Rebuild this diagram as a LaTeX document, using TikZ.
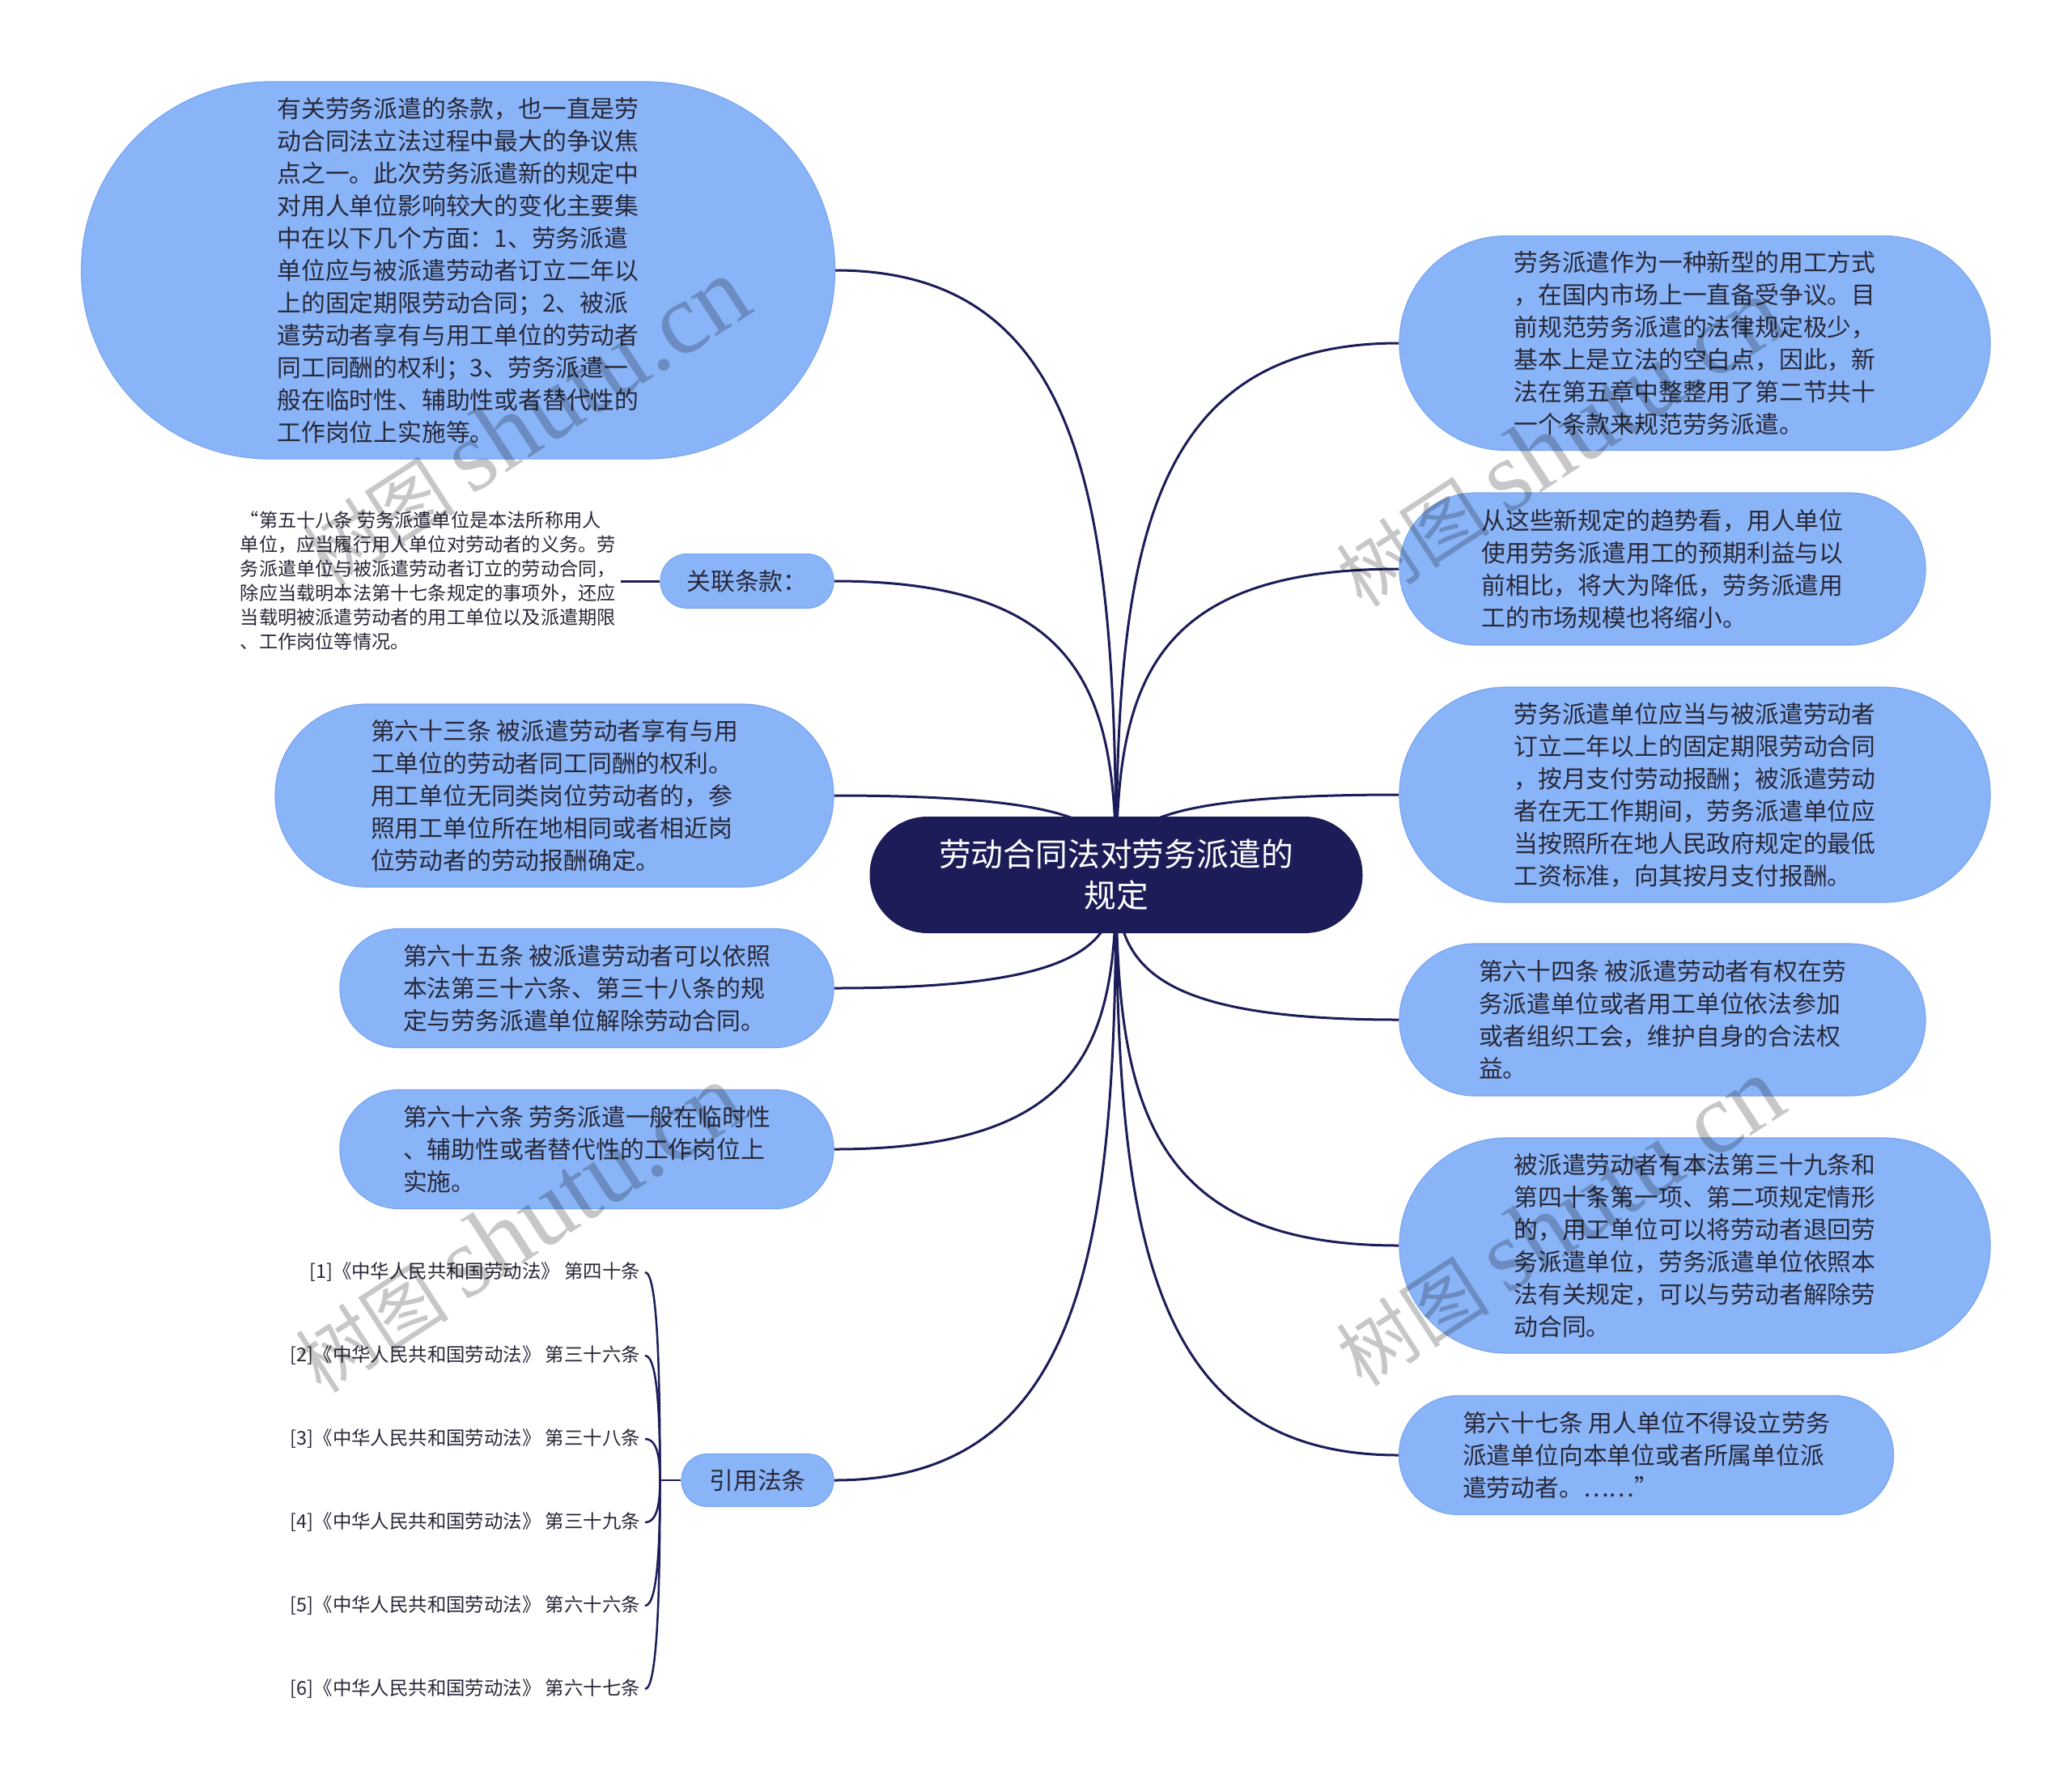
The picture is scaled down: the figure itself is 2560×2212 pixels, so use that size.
\documentclass[tikz,border=0pt]{standalone}
\usepackage{fontspec}
\setmainfont{Noto Sans CJK SC}
\newfontfamily\wmlatin{Liberation Serif}
\usetikzlibrary{calc,backgrounds}
\definecolor{nodefill}{RGB}{138,180,248}
\definecolor{nodeedge}{RGB}{122,166,240}
\definecolor{navy}{RGB}{28,28,88}
\definecolor{txt}{RGB}{40,40,56}
\newcommand\bodyfont{\fontsize{29.8}{40}\selectfont}
\newcommand\smallfont{\fontsize{23.2}{30}\selectfont}
\newcommand\citefont{\fontsize{23.4}{28}\selectfont}
\newcommand\mmlink[2]{\draw[link] (#1) .. controls ($(#1)!0.6!(#1 |- #2)$) and ($(#1 |- #2)!0.1!(#2)$) .. (#2);}
\newcommand\brlink[2]{\draw[citelink] (#1) .. controls ($(#1)!0.45!(#1 |- #2)$) and ($(#1 |- #2)+(-2,0)$) .. (#2);}
\tikzset{
  bub/.style n args={3}{fill=nodefill, draw=nodeedge, line width=1.2pt, text=txt,
    align=left, font=\bodyfont, inner sep=0pt, minimum width=#1, minimum height=#2,
    rounded corners=#3},
  plaintext/.style={text=txt, align=left, inner sep=6pt},
  link/.style={draw=navy, line width=3pt},
  citelink/.style={draw=navy, line width=2.5pt},
  wmark/.style={text=black, opacity=0.22, rotate=33, inner sep=0pt}
}
\begin{document}
\begin{tikzpicture}[x=1pt,y=-1pt]
\useasboundingbox (0,0) rectangle (2560,2212);

% central topic
\node[fill=navy, text=white, align=center, font=\fontsize{39.8}{51}\selectfont,
  minimum width=609pt, minimum height=144pt, rounded corners=71.5pt, inner sep=0pt]
  (C) at (1379,1081) {劳动合同法对劳务派遣的\\规定};

% left side
\node[bub={931pt}{466pt}{232.5pt}] (A) at (566,334) {有关劳务派遣的条款，也一直是劳\\动合同法立法过程中最大的争议焦\\点之一。此次劳务派遣新的规定中\\对用人单位影响较大的变化主要集\\中在以下几个方面：1、劳务派遣\\单位应与被派遣劳动者订立二年以\\上的固定期限劳动合同；2、被派\\遣劳动者享有与用工单位的劳动者\\同工同酬的权利；3、劳务派遣一\\般在临时性、辅助性或者替代性的\\工作岗位上实施等。};

\node[bub={214pt}{67pt}{33pt}, align=center] (L) at (923,718) {关联条款：};
\node[plaintext, font=\smallfont, anchor=east] (LT) at (767,718) {“第五十八条 劳务派遣单位是本法所称用人\\单位，应当履行用人单位对劳动者的义务。劳\\务派遣单位与被派遣劳动者订立的劳动合同，\\除应当载明本法第十七条规定的事项外，还应\\当载明被派遣劳动者的用工单位以及派遣期限\\、工作岗位等情况。};

\node[bub={690pt}{226pt}{112.5pt}] (N63) at (685,983) {第六十三条 被派遣劳动者享有与用\\工单位的劳动者同工同酬的权利。\\用工单位无同类岗位劳动者的，参\\照用工单位所在地相同或者相近岗\\位劳动者的劳动报酬确定。};

\node[bub={610pt}{147pt}{73pt}] (N65) at (725,1221) {第六十五条 被派遣劳动者可以依照\\本法第三十六条、第三十八条的规\\定与劳务派遣单位解除劳动合同。};

\node[bub={610pt}{147pt}{73pt}] (N66) at (725,1420) {第六十六条 劳务派遣一般在临时性\\、辅助性或者替代性的工作岗位上\\实施。};

\node[bub={188pt}{65pt}{32pt}, align=center] (Q) at (936,1829) {引用法条};
\coordinate (J) at ($(Q.west)+(-26,0)$);

\node[plaintext, font=\citefont, anchor=east] (Q1) at (797,1572) {[1]《中华人民共和国劳动法》 第四十条};
\node[plaintext, font=\citefont, anchor=east] (Q2) at (797,1675) {[2]《中华人民共和国劳动法》 第三十六条};
\node[plaintext, font=\citefont, anchor=east] (Q3) at (797,1778) {[3]《中华人民共和国劳动法》 第三十八条};
\node[plaintext, font=\citefont, anchor=east] (Q4) at (797,1881) {[4]《中华人民共和国劳动法》 第三十九条};
\node[plaintext, font=\citefont, anchor=east] (Q5) at (797,1984) {[5]《中华人民共和国劳动法》 第六十六条};
\node[plaintext, font=\citefont, anchor=east] (Q6) at (797,2087) {[6]《中华人民共和国劳动法》 第六十七条};

% right side
\node[bub={730pt}{265pt}{132pt}] (R1) at (2094,424) {劳务派遣作为一种新型的用工方式\\，在国内市场上一直备受争议。目\\前规范劳务派遣的法律规定极少，\\基本上是立法的空白点，因此，新\\法在第五章中整整用了第二节共十\\一个条款来规范劳务派遣。};

\node[bub={650pt}{188pt}{93.5pt}] (R2) at (2054,703) {从这些新规定的趋势看，用人单位\\使用劳务派遣用工的预期利益与以\\前相比，将大为降低，劳务派遣用\\工的市场规模也将缩小。};

\node[bub={730pt}{266pt}{132.5pt}] (R3) at (2094,982) {劳务派遣单位应当与被派遣劳动者\\订立二年以上的固定期限劳动合同\\，按月支付劳动报酬；被派遣劳动\\者在无工作期间，劳务派遣单位应\\当按照所在地人民政府规定的最低\\工资标准，向其按月支付报酬。};

\node[bub={650pt}{188pt}{93.5pt}] (R4) at (2054,1260) {第六十四条 被派遣劳动者有权在劳\\务派遣单位或者用工单位依法参加\\或者组织工会，维护自身的合法权\\益。};

\node[bub={730pt}{266pt}{132.5pt}] (R5) at (2094,1539) {被派遣劳动者有本法第三十九条和\\第四十条第一项、第二项规定情形\\的，用工单位可以将劳动者退回劳\\务派遣单位，劳务派遣单位依照本\\法有关规定，可以与劳动者解除劳\\动合同。};

\node[bub={611pt}{147pt}{73pt}] (R6) at (2034,1798) {第六十七条 用人单位不得设立劳务\\派遣单位向本单位或者所属单位派\\遣劳动者。……”};

% connectors behind nodes
\begin{scope}[on background layer]
\fill[white] (0,0) rectangle (2560,2212);
\mmlink{C.center}{A.east}
\mmlink{C.center}{L.east}
\mmlink{C.center}{N63.east}
\mmlink{C.center}{N65.east}
\mmlink{C.center}{N66.east}
\mmlink{C.center}{Q.east}
\mmlink{C.center}{R1.west}
\mmlink{C.center}{R2.west}
\mmlink{C.center}{R3.west}
\mmlink{C.center}{R4.west}
\mmlink{C.center}{R5.west}
\mmlink{C.center}{R6.west}
\draw[link] (L.west) -- (LT.east);
\draw[citelink] (Q.west) -- (J);
\brlink{J}{Q1.east}
\brlink{J}{Q2.east}
\brlink{J}{Q3.east}
\brlink{J}{Q4.east}
\brlink{J}{Q5.east}
\brlink{J}{Q6.east}
\end{scope}

% watermarks
\node[wmark] (W1) at (649,522) {\fontsize{95}{95}\selectfont 树图 {\wmlatin\fontsize{125}{125}\selectfont shutu.cn}};
\node[wmark] (W2) at (1927,547) {\fontsize{95}{95}\selectfont 树图 {\wmlatin\fontsize{125}{125}\selectfont shutu.cn}};
\node[wmark] (W3) at (641,1518) {\fontsize{95}{95}\selectfont 树图 {\wmlatin\fontsize{125}{125}\selectfont shutu.cn}};
\node[wmark] (W4) at (1927,1510) {\fontsize{95}{95}\selectfont 树图 {\wmlatin\fontsize{125}{125}\selectfont shutu.cn}};
\end{tikzpicture}
\end{document}
